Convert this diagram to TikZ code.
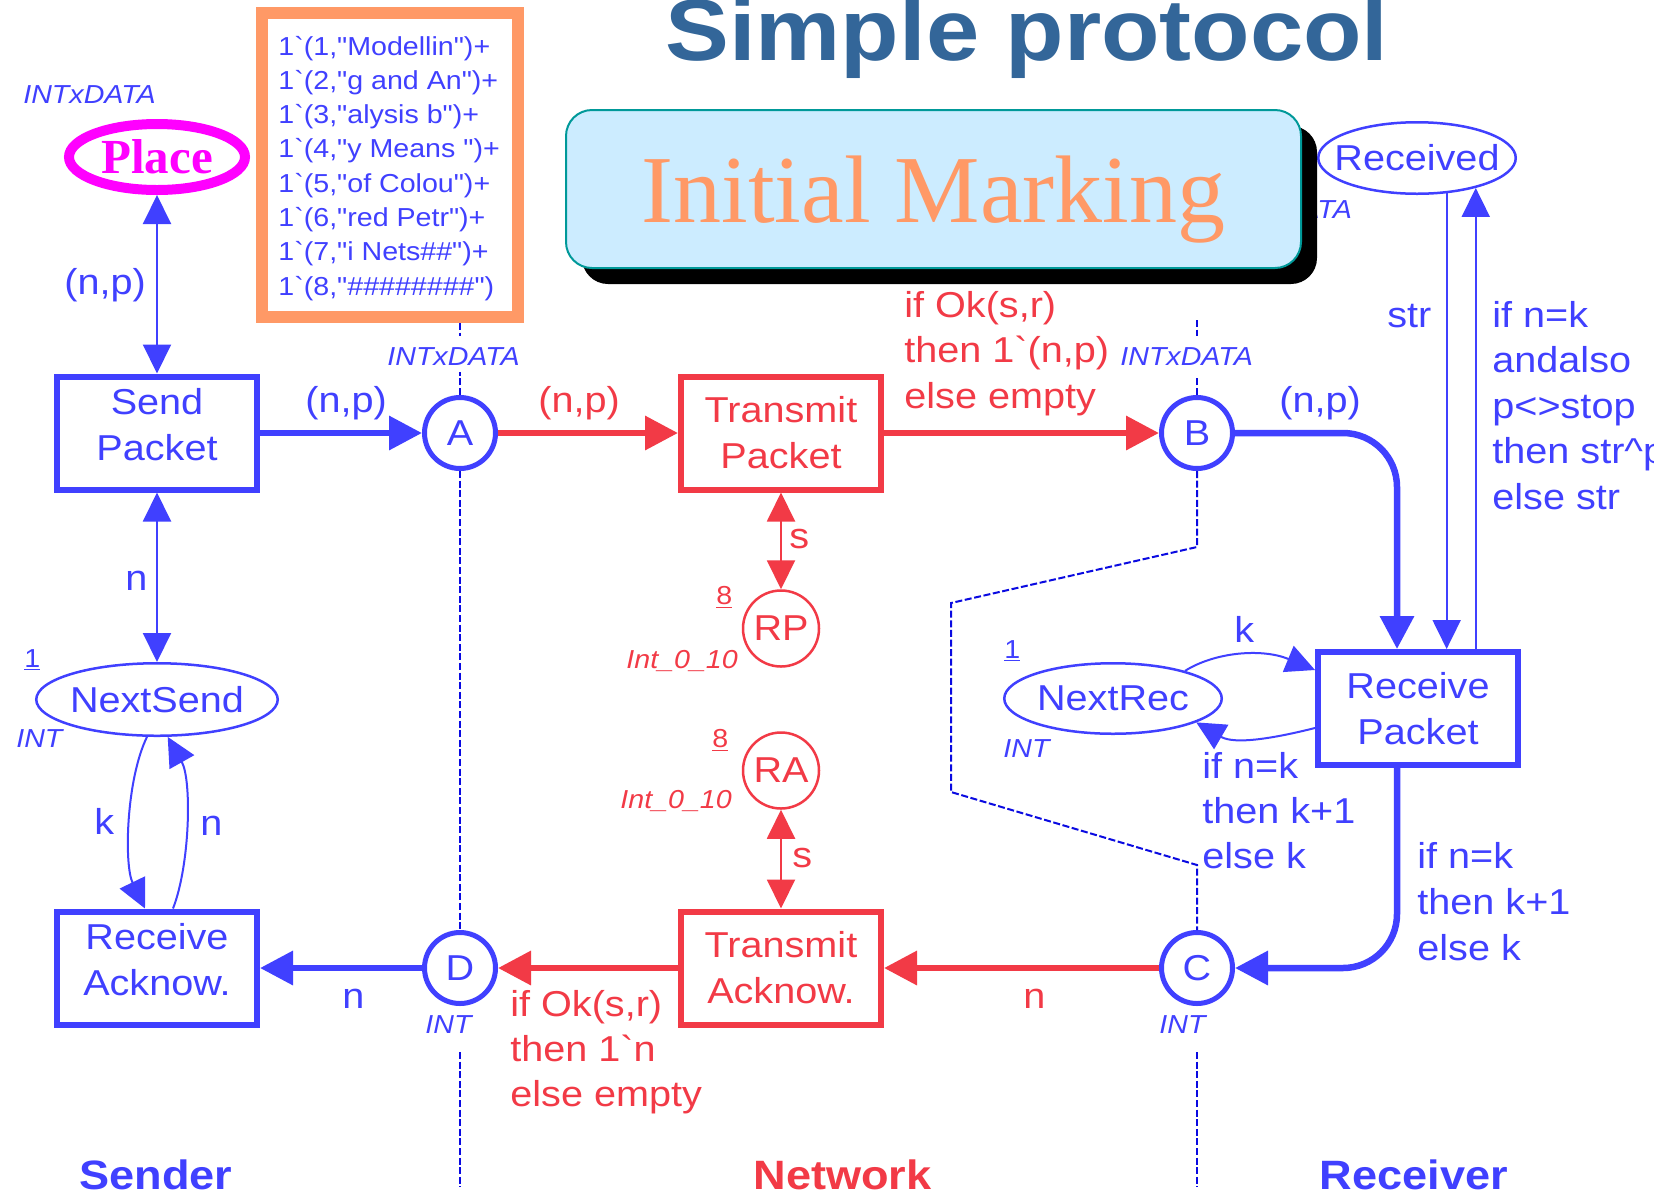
\documentclass[tikz,border=0pt]{standalone}
\usepackage{fontspec}
\usetikzlibrary{arrows.meta,shapes.geometric,calc,shadows}
\newfontfamily\diafont{Liberation Sans}[FakeStretch=1.1]
\newfontfamily\serifface{Liberation Serif}
\definecolor{pnblue}{RGB}{64,64,255}
\definecolor{pnred}{RGB}{242,58,70}
\definecolor{laneblue}{RGB}{10,10,225}
\definecolor{titleblue}{RGB}{51,102,153}
\definecolor{markorange}{RGB}{255,153,102}
\definecolor{placemagenta}{RGB}{255,0,255}
\definecolor{imfill}{RGB}{204,236,255}
\definecolor{imedge}{RGB}{0,153,153}
\newcommand\fMain{\diafont\fontsize{18pt}{23pt}\selectfont}
\newcommand\fSmall{\diafont\itshape\fontsize{13pt}{15pt}\selectfont}
\newcommand\fMark{\diafont\fontsize{13pt}{15pt}\selectfont}
\newcommand\fLane{\diafont\bfseries\fontsize{20.5pt}{24pt}\selectfont}
\newcommand\fTitle{\diafont\bfseries\fontsize{43.5pt}{50pt}\selectfont}
\newcommand\fPlace{\serifface\bfseries\fontsize{24.5pt}{28pt}\selectfont}
\newcommand\fIM{\serifface\fontsize{48pt}{56pt}\selectfont}
% extra depth under a box's last line, lifting its text a little
\newcommand\liftstrut{\rule[-9pt]{0pt}{9pt}}
\tikzset{
  BigTri/.tip={Triangle[length=16.5pt,width=16.5pt]},
  SmallTri/.tip={Triangle[length=14.5pt,width=14pt]},
  trans/.style={rectangle, draw, line width=3pt, minimum width=100pt,
    minimum height=56.5pt, inner sep=0pt, font=\fMain, align=center},
  port/.style={circle, draw, line width=2.5pt, minimum size=35.5pt,
    inner sep=0pt, font=\fMain},
  res/.style={circle, draw, line width=1.25pt, minimum size=38pt,
    inner sep=0pt, font=\fMain},
  ellplace/.style={ellipse, draw, line width=1.25pt, inner sep=0pt, font=\fMain},
  lbl/.style={anchor=base west, inner sep=0pt, font=\fMain},
  tag/.style={anchor=base west, inner sep=0pt, font=\fSmall},
  marktext/.style={anchor=base west, inner sep=0pt, font=\fMark, text=pnblue},
  thickarc/.style={line width=3.25pt, -BigTri},
  thinarc/.style={line width=1pt, -SmallTri},
  biarc/.style={line width=1pt, SmallTri-SmallTri},
  lane/.style={draw=laneblue, line width=1pt, dash pattern=on 3.5pt off 1.3pt},
}
\begin{document}
\begin{tikzpicture}[x=0.5pt, y=-0.5pt]
\useasboundingbox (0,0) rectangle (1670,1201);
\fill[white] (0,0) rectangle (1670,1201);

% title
\node[font=\fTitle, text=titleblue, anchor=base, inner sep=0pt] (title) at (1027,60) {Simple protocol};

% initial marking of the place
\node[draw=markorange, line width=6.4pt, minimum width=128pt, minimum height=152pt,
  inner sep=0pt] (markbox) at (390,165) {};
\foreach \t [count=\i from 0] in {{1`(1,"Modellin")+},{1`(2,"g and An")+},
    {1`(3,"alysis b")+},{1`(4,"y Means ")+},{1`(5,"of Colou")+},
    {1`(6,"red Petr")+},{1`(7,"i Nets\#\#")+},{1`(8,"\#\#\#\#\#\#\#\#")}}
  \node[marktext] (mk\i) at (278,{55+34.3*\i}) {\t};

% lane separators
\coordinate (laL1) at (460,323); \coordinate (laL2) at (460,336);
\coordinate (laL3) at (460,372);
\coordinate (laL4) at (460,1052); \coordinate (laL5) at (460,1187);
\coordinate (laR1) at (1197,320); \coordinate (laR2) at (1197,336);
\coordinate (laR3) at (1197,378);
\coordinate (laR4) at (1197,547); \coordinate (laR5) at (951,603);
\coordinate (laR6) at (951,792); \coordinate (laR7) at (1197,865);
\coordinate (laR8) at (1197,1052); \coordinate (laR9) at (1197,1187);

% places and transitions
\node[ellipse, draw=placemagenta, text=placemagenta, line width=5pt, minimum width=88pt,
  minimum height=33pt, inner sep=0pt, font=\fPlace] (place) at (157,157) {Place};
\node[trans, color=pnblue] (sendpk) at (157,433) {Send\\Packet\liftstrut};
\node[port, color=pnblue] (A) at (460,433) {A};
\node[trans, color=pnred] (trpk) at (781,433) {Transmit\\Packet};
\node[port, color=pnblue] (B) at (1197,433) {B};
\node[res, color=pnred] (RP) at (781,628.5) {RP};
\node[res, color=pnred] (RA) at (781,770.5) {RA};
\node[trans, color=pnred] (track) at (781,968) {Transmit\\Acknow.};
\node[port, color=pnblue] (D) at (460,968) {D};
\node[port, color=pnblue] (C) at (1197,968) {C};
\node[trans, color=pnblue] (rcack) at (157,968) {Receive\\Acknow.\liftstrut};
\node[ellplace, color=pnblue, minimum width=120.75pt, minimum height=36.25pt]
  (nextsend) at (157,699.5) {\makebox[0pt]{NextSend}};
\node[ellplace, color=pnblue, minimum width=108.75pt, minimum height=35.25pt]
  (nextrec) at (1113,698.5) {\makebox[0pt]{NextRec}};
\node[ellplace, color=pnblue, minimum width=98.75pt, minimum height=35.75pt]
  (received) at (1417,158) {\makebox[0pt]{Received}};
\node[trans, color=pnblue] (rcpk) at (1418,708.5) {Receive\\Packet};

\draw[lane] (laL1) -- (laL2);
\draw[lane] (A.north) -- (laL3);
\draw[lane] (A.south) -- (D.north);
\draw[lane] (laL4) -- (laL5);
\draw[lane] (laR1) -- (laR2);
\draw[lane] (B.north) -- (laR3);
\draw[lane] (B.south) -- (laR4) -- (laR5) -- (laR6) -- (laR7) -- (C.north);
\draw[lane] (laR8) -- (laR9);

% arcs
\draw[biarc, color=pnblue] (place.south) -- (sendpk.north);
\draw[biarc, color=pnblue] (sendpk.south) -- (nextsend.north);
\draw[thinarc, color=pnblue] (nextsend.-105) .. controls (126,780) and (124,865) .. ($(rcack.north)+(-12,0)$);
\draw[thinarc, color=pnblue] ($(rcack.north)+(16,0)$) .. controls (190,865) and (192,780) .. (nextsend.-74);
\draw[thickarc, color=pnblue] (sendpk.east) -- (A.west);
\draw[thickarc, color=pnred] (A.east) -- (trpk.west);
\draw[thickarc, color=pnred] (trpk.east) -- (B.west);
\coordinate (bturn) at (1397,433);
\coordinate (cturn) at (1397,968);
\draw[thickarc, color=pnblue, rounded corners=27pt] (B.east) -- (bturn) -- (bturn |- rcpk.north);
\draw[thickarc, color=pnblue, rounded corners=27pt] (cturn |- rcpk.south) -- (cturn) -- (C.east);
\draw[thickarc, color=pnred] (C.west) -- (track.east);
\draw[thickarc, color=pnred] (track.west) -- (D.east);
\draw[thickarc, color=pnblue] (D.west) -- (rcack.east);
\draw[biarc, color=pnred] (trpk.south) -- (RP.north);
\draw[biarc, color=pnred] (RA.south) -- (track.north);
\draw[thinarc, color=pnblue] (received.-50) -- (received.-50 |- rcpk.north);
\draw[thinarc, color=pnblue] (received.-27 |- rcpk.north) -- (received.-27);
\draw[thinarc, color=pnblue] (nextrec.21) .. controls (1215,652) and (1262,648) .. ($(rcpk.west)+(0,-38.5)$);
\draw[thinarc, color=pnblue] ($(rcpk.west)+(0,19.5)$) .. controls (1275,738) and (1235,745) .. (nextrec.-16.5);

% colour sets and initial markings
\node[tag, text=pnblue] (tyPlace) at (23,103) {INTxDATA};
\node[tag, text=pnblue] (tyA) at (387,365) {INTxDATA};
\node[tag, text=pnblue] (tyB) at (1120,365) {INTxDATA};
\node[tag, text=pnblue] (tyD) at (425,1033) {INT};
\node[tag, text=pnblue] (tyC) at (1159,1033) {INT};
\node[tag, text=pnblue] (tyNS) at (16,747) {INT};
\node[tag, text=pnblue] (tyNR) at (1003,757) {INT};
\node[tag, text=pnred] (tyRP) at (626,668) {Int\_0\_10};
\node[tag, text=pnred] (tyRA) at (620,808) {Int\_0\_10};
\node[marktext] (imNS) at (24,667) {\underline{1}};
\node[marktext] (imNR) at (1004,658) {\underline{1}};
\node[marktext, text=pnred] (imRP) at (716,604) {\underline{8}};
\node[marktext, text=pnred] (imRA) at (712,747) {\underline{8}};
\node[tag, text=pnblue] (tyRcv) at (1219,218) {INTxDATA};

% arc inscriptions
\node[lbl, text=pnblue] (exPl) at (64,294) {(n,p)};
\node[lbl, text=pnblue] (exSA) at (305,412) {(n,p)};
\node[lbl, text=pnred] (exAT) at (538,412) {(n,p)};
\node[lbl, text=pnblue] (exBR) at (1279,412) {(n,p)};
\node[lbl, text=pnblue] (exNS) at (125,590) {n};
\node[lbl, text=pnblue] (exK) at (94,834) {k};
\node[lbl, text=pnblue] (exN) at (200,835) {n};
\node[lbl, text=pnblue] (exDR) at (342,1008) {n};
\node[lbl, text=pnred] (exCT) at (1023,1008) {n};
\node[lbl, text=pnred] (exRP) at (789,548) {s};
\node[lbl, text=pnred] (exRA) at (792,867) {s};
\node[lbl, text=pnblue] (exNR) at (1234,642) {k};
\node[lbl, text=pnblue] (exStr) at (1387,327) {str};
\foreach \t [count=\i from 0] in {{if Ok(s,r)},{then 1`(n,p)},{else empty}}
  \node[lbl, text=pnred] (okp\i) at (904,{317+45.5*\i}) {\t};
\foreach \t [count=\i from 0] in {{if Ok(s,r)},{then 1`n},{else empty}}
  \node[lbl, text=pnred] (okn\i) at (510,{1016+45*\i}) {\t};
\foreach \t [count=\i from 0] in {{if n=k},{then k+1},{else k}}
  \node[lbl, text=pnblue] (nxr\i) at (1202,{778+45*\i}) {\t};
\foreach \t [count=\i from 0] in {{if n=k},{then k+1},{else k}}
  \node[lbl, text=pnblue] (nxc\i) at (1417,{868+46*\i}) {\t};
% the diagram's right border cuts this inscription
\begin{scope}
  \clip (0,0) rectangle (1653,1201);
  \foreach \t [count=\i from 0] in {{if n=k},{andalso},{p<>stop},{then str\textasciicircum p},{else str}}
    \node[lbl, text=pnblue] (stl\i) at (1492,{327+45.5*\i}) {\t};
\end{scope}

% lane names
\node[font=\fLane, text=pnblue, anchor=base, inner sep=0pt] (sender) at (156,1189) {Sender};
\node[font=\fLane, text=pnred, anchor=base, inner sep=0pt] (network) at (842.5,1189) {Network};
\node[font=\fLane, text=pnblue, anchor=base, inner sep=0pt] (receiver) at (1414,1189) {Receiver};

% overlay caption
\node[rounded corners=13pt, draw=imedge, line width=1pt, fill=imfill,
  minimum width=367.5pt, minimum height=79pt, font=\fIM, text=markorange,
  text depth=0pt,
  drop shadow={shadow xshift=8pt, shadow yshift=-8pt, fill=black, opacity=1}]
  (initmark) at (933.5,189) {Initial Marking};
\end{tikzpicture}
\end{document}
